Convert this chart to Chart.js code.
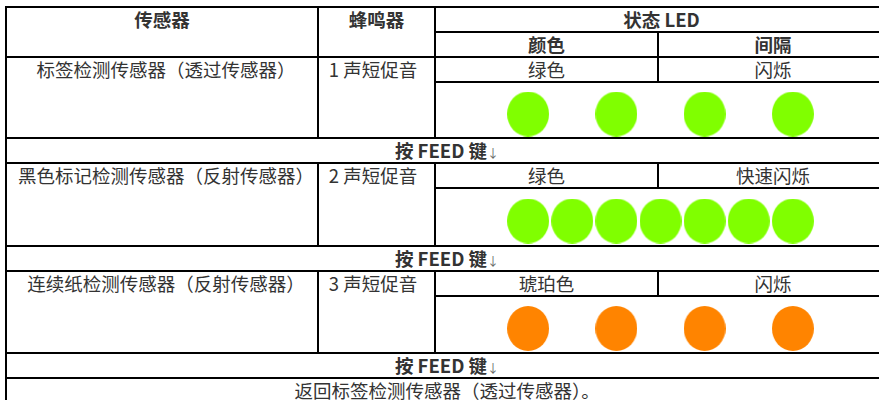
<!DOCTYPE html>
<html lang="zh">
<head>
    <meta charset="UTF-8">
    <title>传感器 LED 状态</title>
    <script src="https://cdn.jsdelivr.net/npm/chart.js@4.4.0/dist/chart.umd.min.js"></script>
    <style>
        html, body { margin: 0; padding: 0; background: #fff; }
        body { width: 879px; height: 400px; overflow: hidden; position: relative; }
        #sheet {
            position: absolute; left: 5px; top: 6px;
            width: 884px;
            border-collapse: collapse;
            table-layout: fixed;
            font-family: "Noto Sans CJK SC", "Noto Sans", sans-serif;
            font-size: 18.5px;
            color: #333;
        }
        #sheet td {
            border: 2px solid #000;
            padding: 0;
            text-align: center;
            vertical-align: middle;
            line-height: 23px;
            white-space: nowrap;
            overflow: hidden;
        }
        #sheet td.top { vertical-align: top; }
        #sheet td.sensor { padding-left: 8px; }
        #sheet td.buzzer { padding-right: 7px; }
        #sheet .hd { font-weight: bold; }
        .arrow { font-size: 12px; font-weight: normal; color: #666; line-height: 0; }
        .led-box { position: relative; width: 100%; }
    </style>
</head>
<body>
    <table id="sheet">
        <colgroup>
            <col style="width:312px">
            <col style="width:117px">
            <col style="width:223px">
            <col style="width:230px">
        </colgroup>
        <tbody id="sheetBody">
            <tr style="height:25px">
                <td class="hd top" rowspan="2">传感器</td>
                <td class="hd top" rowspan="2">蜂鸣器</td>
                <td class="hd" colspan="2">状态 LED</td>
            </tr>
            <tr style="height:25px">
                <td class="hd">颜色</td>
                <td class="hd">间隔</td>
            </tr>
        </tbody>
    </table>

    <script>
        // 表格内容
        const sensors = ['标签检测传感器（透过传感器）', '黑色标记检测传感器（反射传感器）', '连续纸检测传感器（反射传感器）'];
        const buzzers = ['1 声短促音', '2 声短促音', '3 声短促音'];
        const ledColorNames = ['绿色', '绿色', '琥珀色'];
        const ledIntervals = ['闪烁', '快速闪烁', '闪烁'];
        const feedText = '按 FEED 键';
        const lastText = '返回标签检测传感器（透过传感器）。';

        // LED 亮灯位置 (时间槽 1..7)
        const slowBlinkSlots = [1, 3, 5, 7];
        const fastBlinkSlots = [1, 2, 3, 4, 5, 6, 7];
        const ledSlots = [slowBlinkSlots, fastBlinkSlots, slowBlinkSlots];
        const ledFills = ['#80ff00', '#80ff00', '#ff8400']; // 绿, 绿, 琥珀

        const ledRowHeights = [56, 58, 57];

        function buildRows() {
            const body = document.getElementById('sheetBody');
            let html = '';
            for (let i = 0; i < sensors.length; i++) {
                html += '<tr style="height:25px">' +
                    '<td class="top sensor" rowspan="2">' + sensors[i] + '</td>' +
                    '<td class="top buzzer" rowspan="2">' + buzzers[i] + '</td>' +
                    '<td>' + ledColorNames[i] + '</td>' +
                    '<td>' + ledIntervals[i] + '</td></tr>';
                html += '<tr style="height:' + ledRowHeights[i] + 'px">' +
                    '<td colspan="2"><div class="led-box" style="height:' + (ledRowHeights[i] - 2) + 'px">' +
                    '<canvas id="led' + i + '"></canvas></div></td></tr>';
                html += '<tr style="height:25px"><td class="hd" colspan="4">' + feedText +
                    '<span class="arrow">↓</span></td></tr>';
            }
            html += '<tr style="height:25px"><td colspan="4">' + lastText + '</td></tr>';
            body.insertAdjacentHTML('beforeend', html);
        }

        function ledDot(color) {
            const c = document.createElement('canvas');
            c.width = 42;
            c.height = 45;
            const ctx = c.getContext('2d');
            ctx.fillStyle = color;
            ctx.beginPath();
            ctx.ellipse(21, 22.5, 21, 22.5, 0, 0, Math.PI * 2);
            ctx.fill();
            return c;
        }

        function displayLeds(idx) {
            const ct = document.getElementById('led' + idx);
            new Chart(ct, {
                type: 'scatter',
                data: {
                    datasets: [
                        {
                            data: ledSlots[idx].map(s => ({ x: s, y: 0 })),
                            pointStyle: ledDot(ledFills[idx]),
                            backgroundColor: ledFills[idx],
                            clip: false
                        }
                    ]
                },
                options: {
                    responsive: true,
                    maintainAspectRatio: false,
                    animation: false,
                    events: [],
                    layout: { padding: { left: 48, right: 50, top: 13, bottom: 0 } },
                    plugins: {
                        legend: { display: false },
                        tooltip: { enabled: false }
                    },
                    scales: {
                        x: { display: false, min: 0, max: 8 },
                        y: { display: false, min: -1, max: 1 }
                    }
                }
            });
        }

        buildRows();
        for (let i = 0; i < ledSlots.length; i++) {
            displayLeds(i);
        }
    </script>
</body>
</html>
